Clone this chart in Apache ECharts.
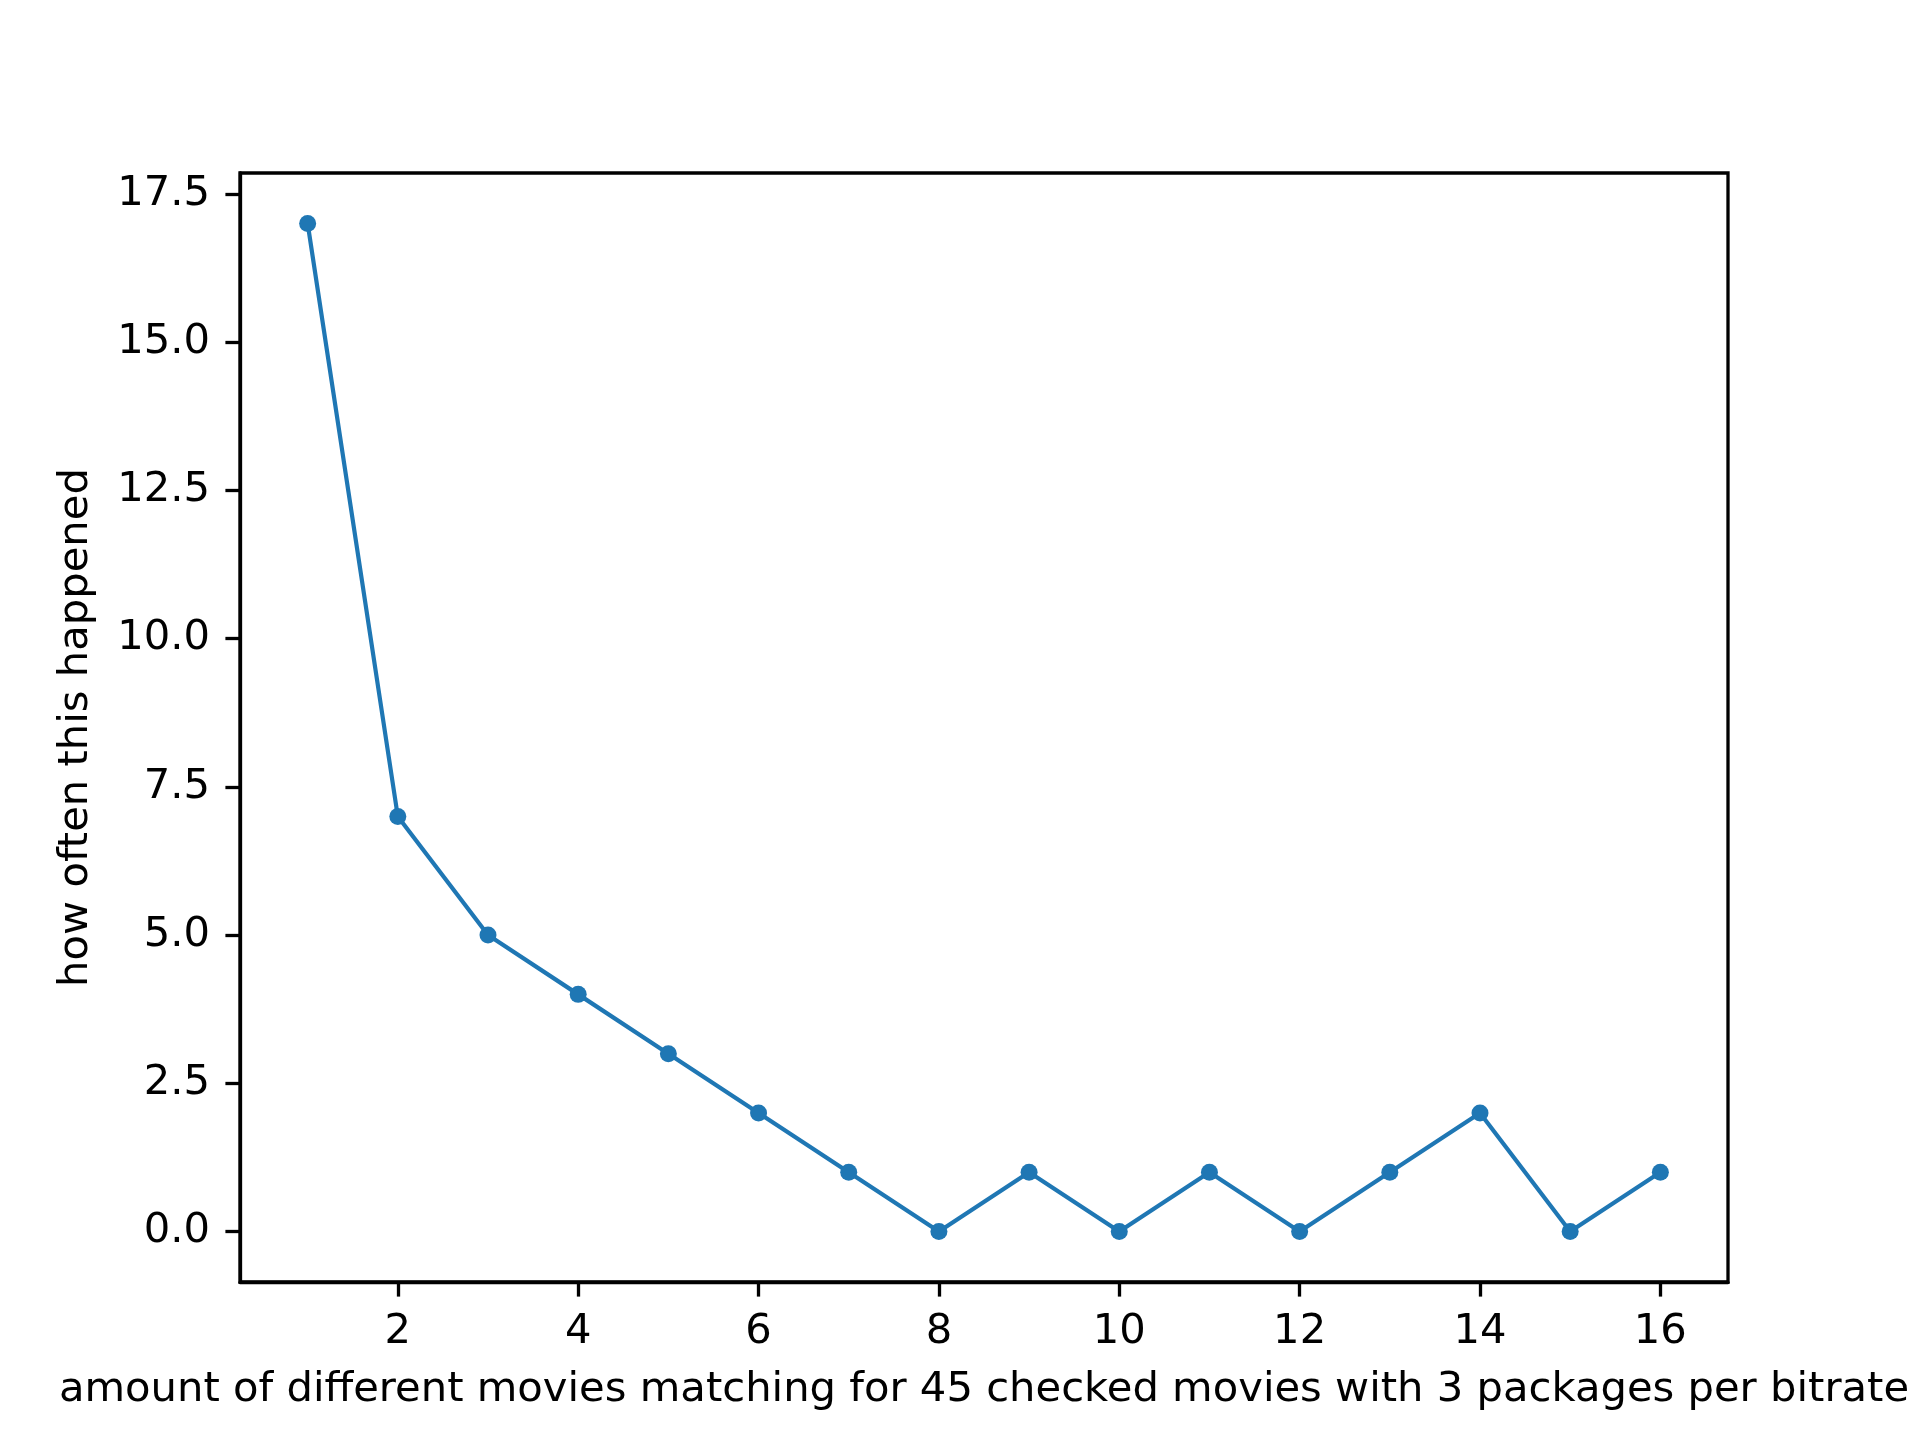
<!DOCTYPE html>
<html>
<head>
	<meta charset="utf-8">
	<title>echarts</title>
	<script type="text/javascript" src="https://cdn.jsdelivr.net/npm/echarts@6/dist/echarts.min.js"></script>
	<style>
		body { margin: 0; background: #fff; }
	</style>
</head>
<body>
	<div id="mychar" style="width: 1920px;height:1440px;"></div>

	<script type="text/javascript">
		// data
		var xValues = [1, 2, 3, 4, 5, 6, 7, 8, 9, 10, 11, 12, 13, 14, 15, 16];
		var counts = [17, 7, 5, 4, 3, 2, 1, 0, 1, 0, 1, 0, 1, 2, 0, 1];
		var xTicks = [2, 4, 6, 8, 10, 12, 14, 16];
		var yTicks = [0, 2.5, 5, 7.5, 10, 12.5, 15, 17.5];
		var xTitle = 'amount of different movies matching for 45 checked movies with 3 packages per bitrate';
		var yTitle = 'how often this happened';

		var font = 'DejaVu Sans';
		var points = xValues.map(function (x, i) { return [x, counts[i]]; });

		var mychar = echarts.init(document.getElementById("mychar"), null, {renderer: 'canvas'});
		var option = {
			animation: false,
			backgroundColor: '#ffffff',
			grid: {
				left: 240,
				top: 173,
				width: 1488,
				height: 1109,
				show: true,
				borderColor: '#000',
				borderWidth: 3.3,
				backgroundColor: 'transparent'
			},
			xAxis: {
				type: 'value',
				min: 0.25,
				max: 16.75,
				name: xTitle,
				nameLocation: 'middle',
				nameGap: 87,
				nameTextStyle: {fontFamily: font, fontSize: 41.7, color: '#000'},
				axisLine: {show: true, onZero: false, lineStyle: {color: '#000', width: 3.3}},
				axisTick: {show: true, customValues: xTicks, length: 14.6, lineStyle: {color: '#000', width: 3.3}},
				axisLabel: {
					customValues: xTicks,
					margin: 29,
					fontFamily: font, fontSize: 41.7, color: '#000'
				},
				splitLine: {show: false}
			},
			yAxis: {
				type: 'value',
				min: -0.85,
				max: 17.85,
				name: yTitle,
				nameLocation: 'middle',
				nameRotate: 90,
				nameGap: 143,
				nameTextStyle: {fontFamily: font, fontSize: 41.7, color: '#000'},
				axisLine: {show: true, onZero: false, lineStyle: {color: '#000', width: 3.3}},
				axisTick: {show: true, customValues: yTicks, length: 14.6, lineStyle: {color: '#000', width: 3.3}},
				axisLabel: {
					customValues: yTicks,
					margin: 30,
					formatter: function (v) { return v.toFixed(1); },
					fontFamily: font, fontSize: 41.7, color: '#000'
				},
				splitLine: {show: false}
			},
			series: [
				{
					type: 'line',
					data: points,
					symbol: 'circle',
					symbolSize: 17,
					showAllSymbol: true,
					lineStyle: {color: '#1f77b4', width: 4.2},
					itemStyle: {color: '#1f77b4', borderWidth: 0}
				}
			]
		};

		mychar.setOption(option);
	</script>
</body>
</html>
